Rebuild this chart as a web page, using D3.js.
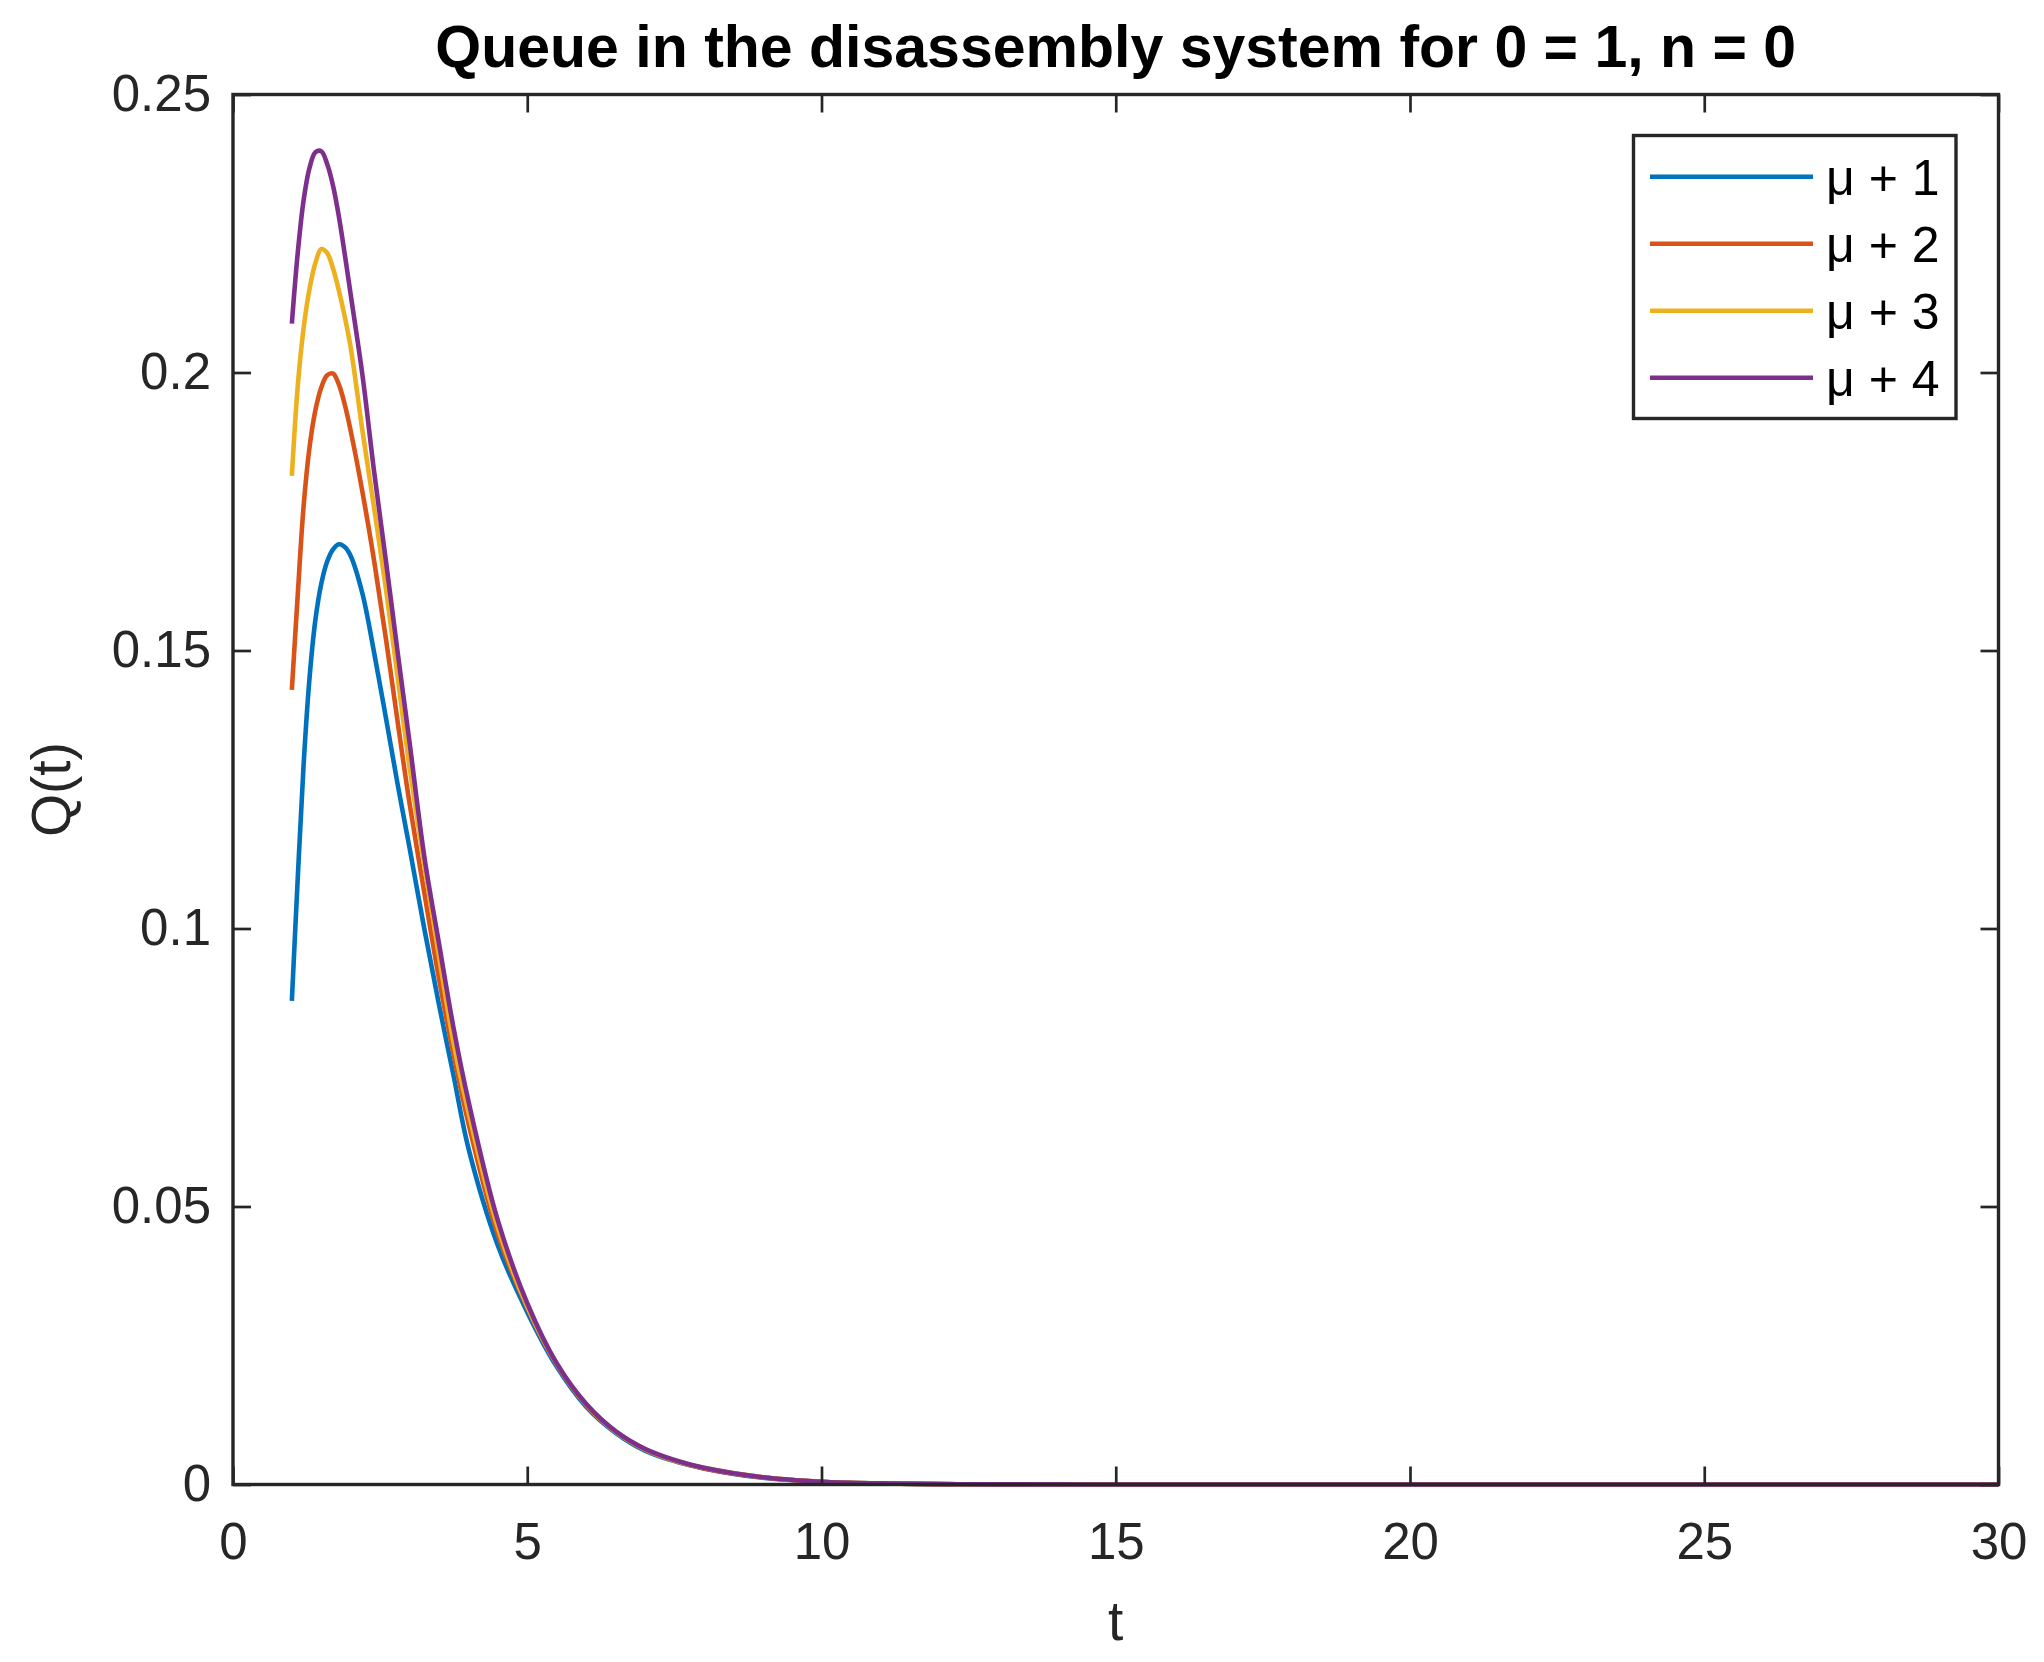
<!DOCTYPE html>
<html>
<head>
<meta charset="utf-8">
<script src="https://cdn.jsdelivr.net/npm/d3@7"></script>
<style>
  html, body { margin: 0; padding: 0; background: #ffffff; }
  svg { display: block; }
  text { font-family: "Liberation Sans", Arial, Helvetica, sans-serif; }
</style>
</head>
<body>
<svg id="chart" width="2044" height="1662"></svg>
<script>
// ---------------- data ----------------
const title = "Queue in the disassembly system for 0 = 1, n = 0";
const xLabel = "t";
const yLabel = "Q(t)";
const seriesNames = ["\u03bc + 1", "\u03bc + 2", "\u03bc + 3", "\u03bc + 4"];
const seriesColors = ["#0072BD", "#D95319", "#EDB120", "#7E2F8E"];

const xTicks = [0, 5, 10, 15, 20, 25, 30];
const xTickLabels = ["0", "5", "10", "15", "20", "25", "30"];
const yTicks = [0, 0.05, 0.1, 0.15, 0.2, 0.25];
const yTickLabels = ["0", "0.05", "0.1", "0.15", "0.2", "0.25"];

const tValues = [1.0, 1.1, 1.2, 1.3, 1.4, 1.5, 1.6, 1.7, 1.8, 1.9, 2.0, 2.2, 2.4, 2.6, 2.8, 3.0,
                 3.25, 3.5, 3.75, 4.0, 4.5, 5.0, 5.5, 6.0, 6.5, 7.0, 7.5, 8.0, 9.0, 10, 11, 12, 13, 15, 20, 25, 30];

const qMu1 = [0.0870, 0.1090, 0.1295, 0.1450, 0.1555, 0.1620, 0.1660, 0.1682, 0.1691, 0.1686, 0.1670,
              0.1602, 0.1495, 0.1378, 0.1258, 0.1145, 0.1000, 0.0863, 0.0734, 0.0605, 0.0430, 0.0310,
              0.0212, 0.0140, 0.0093, 0.0061, 0.0042, 0.0029, 0.0012, 0.0005, 0.0002, 0.00006, 0.00002, 0, 0, 0, 0];
const qMu2 = [0.1429, 0.1600, 0.1760, 0.1865, 0.1932, 0.1973, 0.1995, 0.1998, 0.1978, 0.1942, 0.1895,
              0.1785, 0.1660, 0.1520, 0.1370, 0.1225, 0.1065, 0.0910, 0.0773, 0.0650, 0.0450, 0.0318,
              0.0216, 0.0143, 0.0095, 0.0063, 0.0043, 0.0029, 0.0013, 0.0005, 0.0002, 0.00006, 0.00002, 0, 0, 0, 0];
const qMu3 = [0.1814, 0.1975, 0.2080, 0.2150, 0.2197, 0.2222, 0.2215, 0.2187, 0.2147, 0.2100, 0.2045,
              0.1895, 0.1755, 0.1610, 0.1450, 0.1290, 0.1115, 0.0950, 0.0793, 0.0670, 0.0462, 0.0320,
              0.0217, 0.0144, 0.0095, 0.0063, 0.0043, 0.0030, 0.0013, 0.0005, 0.0002, 0.00006, 0.00002, 0, 0, 0, 0];
const qMu4 = [0.2088, 0.2215, 0.2310, 0.2368, 0.2396, 0.2398, 0.2375, 0.2336, 0.2280, 0.2212, 0.2140,
              0.1995, 0.1820, 0.1660, 0.1495, 0.1335, 0.1130, 0.0973, 0.0820, 0.0690, 0.0475, 0.0326,
              0.0218, 0.0145, 0.0096, 0.0064, 0.0044, 0.0030, 0.0013, 0.0005, 0.0002, 0.00006, 0.00002, 0, 0, 0, 0];

const seriesValues = [qMu1, qMu2, qMu3, qMu4];

// ---------------- layout ----------------
const W = 2044, H = 1662;
const plot = { left: 233, right: 1998.5, top: 94.5, bottom: 1484.5 };
const axisColor = "#262626";

const svg = d3.select("#chart");
svg.append("rect").attr("width", W).attr("height", H).attr("fill", "#ffffff");

const x = d3.scaleLinear().domain([0, 30]).range([plot.left, plot.right]);
const y = d3.scaleLinear().domain([0, 0.25]).range([plot.bottom, plot.top]);

// ---------------- lines ----------------
const line = d3.line()
  .x(d => x(d[0]))
  .y(d => y(d[1]))
  .curve(d3.curveCatmullRom.alpha(0.5));

const lineG = svg.append("g");
seriesValues.forEach((vals, i) => {
  const pts = tValues.map((t, k) => [t, vals[k]]);
  lineG.append("path")
    .datum(pts)
    .attr("d", line)
    .attr("fill", "none")
    .attr("stroke", seriesColors[i])
    .attr("stroke-width", 4.6)
    .attr("stroke-linejoin", "round");
});

// ---------------- axes ----------------
const tickLen = 18;
const fmtX = (d, i) => xTickLabels[i];
const fmtY = (d, i) => yTickLabels[i];

const gx = svg.append("g")
  .attr("transform", `translate(0,${plot.bottom})`)
  .call(d3.axisBottom(x).tickValues(xTicks).tickFormat(fmtX).tickSize(-tickLen).tickPadding(38));
const gxTop = svg.append("g")
  .attr("transform", `translate(0,${plot.top})`)
  .call(d3.axisTop(x).tickValues(xTicks).tickFormat("").tickSize(-tickLen));
const gy = svg.append("g")
  .attr("transform", `translate(${plot.left},0)`)
  .call(d3.axisLeft(y).tickValues(yTicks).tickFormat(fmtY).tickSize(-tickLen).tickPadding(22));
const gyRight = svg.append("g")
  .attr("transform", `translate(${plot.right},0)`)
  .call(d3.axisRight(y).tickValues(yTicks).tickFormat("").tickSize(-tickLen));

[gx, gxTop, gy, gyRight].forEach(g => {
  g.select(".domain").remove();
  g.selectAll(".tick line").attr("stroke", axisColor).attr("stroke-width", 2.7);
  g.selectAll(".tick text")
    .style("fill", axisColor)
    .style("font-size", "51px")
    .style("font-family", '"Liberation Sans", Arial, Helvetica, sans-serif');
});

// box
svg.append("rect")
  .attr("x", plot.left).attr("y", plot.top)
  .attr("width", plot.right - plot.left)
  .attr("height", plot.bottom - plot.top)
  .attr("fill", "none")
  .attr("stroke", axisColor)
  .attr("stroke-width", 3.4);

// ---------------- labels ----------------
const cx = (plot.left + plot.right) / 2;
svg.append("text")
  .attr("x", cx).attr("y", 67)
  .attr("text-anchor", "middle")
  .style("font-size", "59px")
  .style("font-weight", "bold")
  .style("fill", "#000000")
  .text(title);

svg.append("text")
  .attr("x", cx).attr("y", 1640)
  .attr("text-anchor", "middle")
  .style("font-size", "55px")
  .style("fill", axisColor)
  .text(xLabel);

svg.append("text")
  .attr("transform", `translate(70,${(plot.top + plot.bottom) / 2}) rotate(-90)`)
  .attr("text-anchor", "middle")
  .style("font-size", "55px")
  .style("fill", axisColor)
  .text(yLabel);

// ---------------- legend ----------------
const legend = { x: 1633.5, y: 135.5, w: 322.5, h: 283, rowY0: 176.7, rowStep: 67, lineX0: 1650, lineX1: 1813, textX: 1826 };
const lg = svg.append("g");
lg.append("rect")
  .attr("x", legend.x).attr("y", legend.y)
  .attr("width", legend.w).attr("height", legend.h)
  .attr("fill", "#ffffff")
  .attr("stroke", axisColor)
  .attr("stroke-width", 3.4);
seriesNames.forEach((name, i) => {
  const yy = legend.rowY0 + i * legend.rowStep;
  lg.append("line")
    .attr("x1", legend.lineX0).attr("x2", legend.lineX1)
    .attr("y1", yy).attr("y2", yy)
    .attr("stroke", seriesColors[i])
    .attr("stroke-width", 4.6);
  lg.append("text")
    .attr("x", legend.textX).attr("y", yy)
    .attr("dy", "0.36em")
    .style("font-size", "50px")
    .style("fill", "#000000")
    .text(name);
});
</script>
</body>
</html>
